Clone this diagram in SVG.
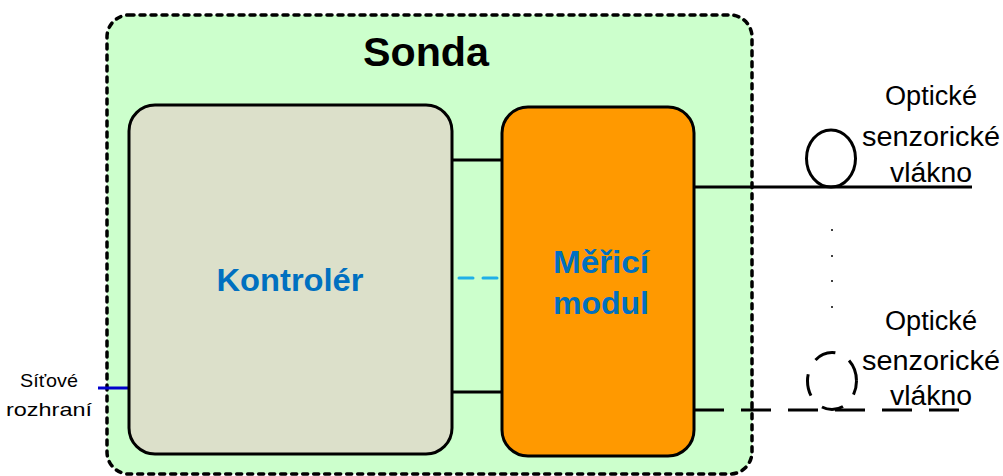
<svg xmlns="http://www.w3.org/2000/svg" width="1003" height="476" viewBox="0 0 1003 476">
<style>
.t{font-family:"Liberation Sans",Arial,sans-serif;fill:#000}
.b{font-weight:bold}
.blue{fill:#0070C0;font-weight:bold}
.ln{stroke:#000;stroke-width:3;fill:none}
.dl{stroke:#000;stroke-width:3;fill:none;stroke-dasharray:30 17}
</style>
<rect width="1003" height="476" fill="#fff"/>
<g id="sonda">
<rect x="107" y="15" width="645" height="459" rx="22" fill="#CCFFCC" stroke="#000" stroke-width="3.5" stroke-dasharray="5 6" stroke-linecap="round"/>
<text class="t b" x="426" y="66" font-size="41" text-anchor="middle" textLength="126" lengthAdjust="spacingAndGlyphs">Sonda</text>
</g>
<g id="connectors">
<line class="ln" x1="452" y1="160" x2="502" y2="160"/>
<line class="ln" x1="452" y1="392" x2="502" y2="392"/>
<line x1="459" y1="278" x2="497" y2="278" stroke="#1FB0E8" stroke-width="3" stroke-dasharray="14 10" stroke-linecap="round"/>
<line x1="98" y1="388" x2="129" y2="388" stroke="#0000CC" stroke-width="3"/>
<line class="ln" x1="694" y1="187" x2="972" y2="187"/>
<ellipse class="ln" cx="831" cy="158.5" rx="24.5" ry="28.5"/>
<line class="dl" x1="694" y1="410" x2="962" y2="410"/>
<ellipse class="ln" cx="832" cy="381" rx="24.5" ry="28.5" stroke-dasharray="22 16" stroke-dashoffset="8"/>
<g fill="#000">
<circle cx="832" cy="230" r="1"/>
<circle cx="832" cy="256" r="1"/>
<circle cx="832" cy="281" r="1"/>
<circle cx="832" cy="307" r="1"/>
</g>
</g>
<g id="kontroler">
<rect x="129" y="105" width="323" height="349" rx="26" fill="#DCE0CA" stroke="#000" stroke-width="3"/>
<text class="t blue" x="290" y="291" font-size="31" text-anchor="middle" textLength="147" lengthAdjust="spacingAndGlyphs">Kontrolér</text>
</g>
<g id="merici">
<rect x="502" y="107" width="192" height="349" rx="26" fill="#FF9900" stroke="#000" stroke-width="3"/>
<text class="t blue" x="601" y="273" font-size="31" text-anchor="middle" textLength="96" lengthAdjust="spacingAndGlyphs">Měřicí</text>
<text class="t blue" x="601" y="314" font-size="31" text-anchor="middle" textLength="96" lengthAdjust="spacingAndGlyphs">modul</text>
</g>
<g id="sitove">
<text class="t" x="49" y="387" font-size="19" text-anchor="middle" textLength="58" lengthAdjust="spacingAndGlyphs">Síťové</text>
<text class="t" x="49" y="416" font-size="19" text-anchor="middle" textLength="86" lengthAdjust="spacingAndGlyphs">rozhraní</text>
</g>
<g id="vlakno1">
<text class="t" x="931" y="105" font-size="27" text-anchor="middle" textLength="92" lengthAdjust="spacingAndGlyphs">Optické</text>
<text class="t" x="931" y="146" font-size="27" text-anchor="middle" textLength="138" lengthAdjust="spacingAndGlyphs">senzorické</text>
<text class="t" x="931" y="182" font-size="27" text-anchor="middle" textLength="82" lengthAdjust="spacingAndGlyphs">vlákno</text>
</g>
<g id="vlakno2">
<text class="t" x="931" y="330" font-size="27" text-anchor="middle" textLength="92" lengthAdjust="spacingAndGlyphs">Optické</text>
<text class="t" x="931" y="370" font-size="27" text-anchor="middle" textLength="138" lengthAdjust="spacingAndGlyphs">senzorické</text>
<text class="t" x="931" y="405" font-size="27" text-anchor="middle" textLength="82" lengthAdjust="spacingAndGlyphs">vlákno</text>
</g>
</svg>
